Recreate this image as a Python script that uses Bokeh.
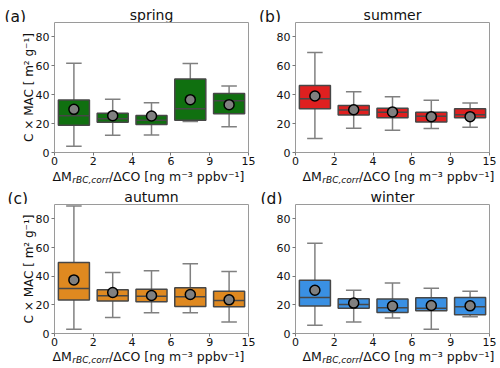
import math
from bokeh.plotting import figure
from bokeh.models import Range1d, FixedTicker, ColumnDataSource
from bokeh.core.properties import value
from bokeh.layouts import row, column
from bokeh.embed import file_html
from bokeh.resources import INLINE

# ---- data ----
bins = ["0-2", "2-4", "4-6", "6-9", "9-15"]
tick_labels = ["0", "2", "4", "6", "9", "15"]
y_ticks = [0, 20, 40, 60, 80]

spring_low = [4.4, 12.0, 12.2, 21.4, 17.9]
spring_q1 = [18.9, 20.9, 19.3, 22.3, 26.9]
spring_med = [25.5, 23.4, 22.3, 30.3, 35.9]
spring_q3 = [36.3, 27.1, 25.7, 50.8, 40.9]
spring_high = [61.8, 36.8, 34.5, 61.6, 46.0]
spring_mean = [29.9, 25.5, 25.3, 36.6, 33.1]

summer_low = [9.7, 16.8, 15.4, 16.6, 17.5]
summer_q1 = [30.3, 26.0, 24.1, 21.1, 24.1]
summer_med = [37.2, 29.4, 27.8, 25.1, 26.2]
summer_q3 = [46.4, 32.6, 30.6, 27.8, 30.3]
summer_high = [69.2, 42.1, 38.6, 36.1, 34.3]
summer_mean = [39.1, 29.6, 28.0, 24.8, 24.8]

autumn_low = [3.0, 11.2, 14.4, 14.4, 8.1]
autumn_q1 = [23.3, 22.6, 22.1, 18.8, 18.6]
autumn_med = [31.4, 26.3, 26.0, 25.6, 23.0]
autumn_q3 = [49.5, 30.5, 30.9, 31.9, 29.5]
autumn_high = [89.0, 42.6, 43.7, 48.6, 43.3]
autumn_mean = [37.4, 28.6, 26.5, 27.2, 23.5]

winter_low = [5.8, 8.1, 10.9, 3.0, 11.6]
winter_q1 = [19.1, 17.7, 14.7, 15.8, 13.0]
winter_med = [25.1, 20.2, 17.9, 17.7, 18.6]
winter_q3 = [37.2, 24.2, 24.0, 24.9, 25.1]
winter_high = [63.0, 30.2, 35.3, 31.6, 29.5]
winter_mean = [30.2, 21.2, 19.1, 19.5, 19.3]

FONT = "DejaVu Sans"
TXT = "#111111"
EDGE = "#474747"
WHISK = "#808080"
FW = 194
BB = 17  # bottom border of panels (tick labels)


def panel(color, low, q1, med, q3, high, mean, bl, br, fh, ylabel):
    p = figure(frame_width=FW, frame_height=fh,
               x_range=Range1d(0, 5), y_range=Range1d(0, 90),
               output_backend="svg", toolbar_location=None,
               min_border_left=bl, min_border_right=br,
               min_border_top=0, min_border_bottom=BB)
    p.grid.visible = False
    p.outline_line_color = "#9a9a9a"
    p.outline_line_width = 1
    p.xaxis.ticker = FixedTicker(ticks=list(range(len(tick_labels))))
    p.xaxis.major_label_overrides = {i: t for i, t in enumerate(tick_labels)}
    p.yaxis.ticker = FixedTicker(ticks=y_ticks)
    for ax in (p.xaxis, p.yaxis):
        ax.axis_line_color = None
        ax.major_tick_in = 0
        ax.major_tick_out = 3
        ax.minor_tick_line_color = None
        ax.major_tick_line_color = "#777777"
        ax.major_label_text_font = FONT
        ax.major_label_text_font_size = "11px"
        ax.major_label_text_color = TXT
    p.xaxis.major_label_standoff = 1
    p.yaxis.major_label_standoff = 2
    if ylabel:
        p.yaxis.axis_label = "C × MAC [ m² g⁻¹]"
        p.yaxis.axis_label_text_font = FONT
        p.yaxis.axis_label_text_font_size = "12px"
        p.yaxis.axis_label_text_font_style = "normal"
        p.yaxis.axis_label_text_color = TXT
        p.yaxis.axis_label_standoff = -3

    x = [i + 0.5 for i in range(len(bins))]
    src = ColumnDataSource(dict(
        x=x, low=low, q1=q1, med=med, q3=q3, high=high, mean=mean,
        xl=[v - 0.2 for v in x], xr=[v + 0.2 for v in x],
        bl=[v - 0.4 for v in x], br=[v + 0.4 for v in x]))
    p.segment(x0="x", y0="q3", x1="x", y1="high", source=src, line_color=WHISK, line_width=1.5)
    p.segment(x0="x", y0="low", x1="x", y1="q1", source=src, line_color=WHISK, line_width=1.5)
    p.segment(x0="xl", y0="high", x1="xr", y1="high", source=src, line_color=WHISK, line_width=1.5)
    p.segment(x0="xl", y0="low", x1="xr", y1="low", source=src, line_color=WHISK, line_width=1.5)
    p.vbar(x="x", width=0.8, bottom="q1", top="q3", source=src,
           fill_color=color, line_color=EDGE, line_width=1.5)
    p.segment(x0="bl", y0="med", x1="br", y1="med", source=src, line_color=EDGE, line_width=1.5)
    p.scatter(x="x", y="mean", source=src, size=10, fill_color="#808080",
              line_color="black", line_width=1.5)
    return p


def strip(w, h):
    s = figure(frame_width=w, frame_height=h, x_range=Range1d(0, w), y_range=Range1d(0, h),
               min_border=0, x_axis_location=None, y_axis_location=None,
               toolbar_location=None, output_backend="svg")
    s.outline_line_color = None
    s.grid.visible = False
    return s


def top_strip(w, h, tag, title, title_x, tag_x, tag_y, title_y):
    s = strip(w, h)
    s.text(x=[tag_x], y=[tag_y], text=[tag], text_font=value(FONT),
           text_font_size=value("15.5px"), text_color=TXT,
           text_align="left", text_baseline="alphabetic")
    s.text(x=[title_x], y=[title_y], text=[title], text_font=value(FONT),
           text_font_size=value("14px"), text_color=TXT,
           text_align="center", text_baseline="alphabetic")
    return s


def xlabel_strip(w, h, x0, base):
    s = strip(w, h)
    s.text(x=[x0], y=[base], text=["ΔM"], text_font=value(FONT),
           text_font_size=value("12.5px"), text_color=TXT,
           text_align="left", text_baseline="alphabetic")
    s.text(x=[x0 + 19.8], y=[base - 3], text=["rBC,corr"], text_font=value(FONT),
           text_font_style="italic", text_font_size=value("9px"), text_color=TXT,
           text_align="left", text_baseline="alphabetic")
    s.text(x=[x0 + 56.5], y=[base], text=["/ΔCO [ng m⁻³ ppbv⁻¹]"], text_font=value(FONT),
           text_font_size=value("12.5px"), text_color=TXT,
           text_align="left", text_baseline="alphabetic")
    return s


def spacer_row(p, h):
    # a 1px empty strip next to the panel keeps the column from re-aligning the strips
    return row(strip(1, h), p)


LW = 54 + FW + 10   # left column width  (frame x 54..248)
RW = 37 + FW + 11   # right column width (frame x 295..489)
FH1, FH2 = 130, 129

pa = panel("#107010", spring_low, spring_q1, spring_med, spring_q3, spring_high, spring_mean, 53, 10, FH1, True)
pb = panel("#df2020", summer_low, summer_q1, summer_med, summer_q3, summer_high, summer_mean, 36, 11, FH1, False)
pc = panel("#df8920", autumn_low, autumn_q1, autumn_med, autumn_q3, autumn_high, autumn_mean, 53, 10, FH2, True)
pd_ = panel("#3a90e3", winter_low, winter_q1, winter_med, winter_q3, winter_high, winter_mean, 36, 11, FH2, False)

col_a = column(top_strip(LW, 22, "(a)", "spring", 151, 4, 6, 8), spacer_row(pa, FH1 + BB),
               xlabel_strip(LW, 19, 52, 12))
col_b = column(top_strip(RW, 22, "(b)", "summer", 134, 0.5, 6, 8), spacer_row(pb, FH1 + BB),
               xlabel_strip(RW, 19, 44, 12))
col_c = column(top_strip(LW, 16, "(c)", "autumn", 151, 7, 6, 8), spacer_row(pc, FH2 + BB),
               xlabel_strip(LW, 18, 52, 12))
col_d = column(top_strip(RW, 16, "(d)", "winter", 134, 2, 6, 8), spacer_row(pd_, FH2 + BB),
               xlabel_strip(RW, 18, 44, 12))

layout = column(row(col_a, col_b), row(col_c, col_d))

open("out.html", "w").write(file_html(layout, INLINE))
